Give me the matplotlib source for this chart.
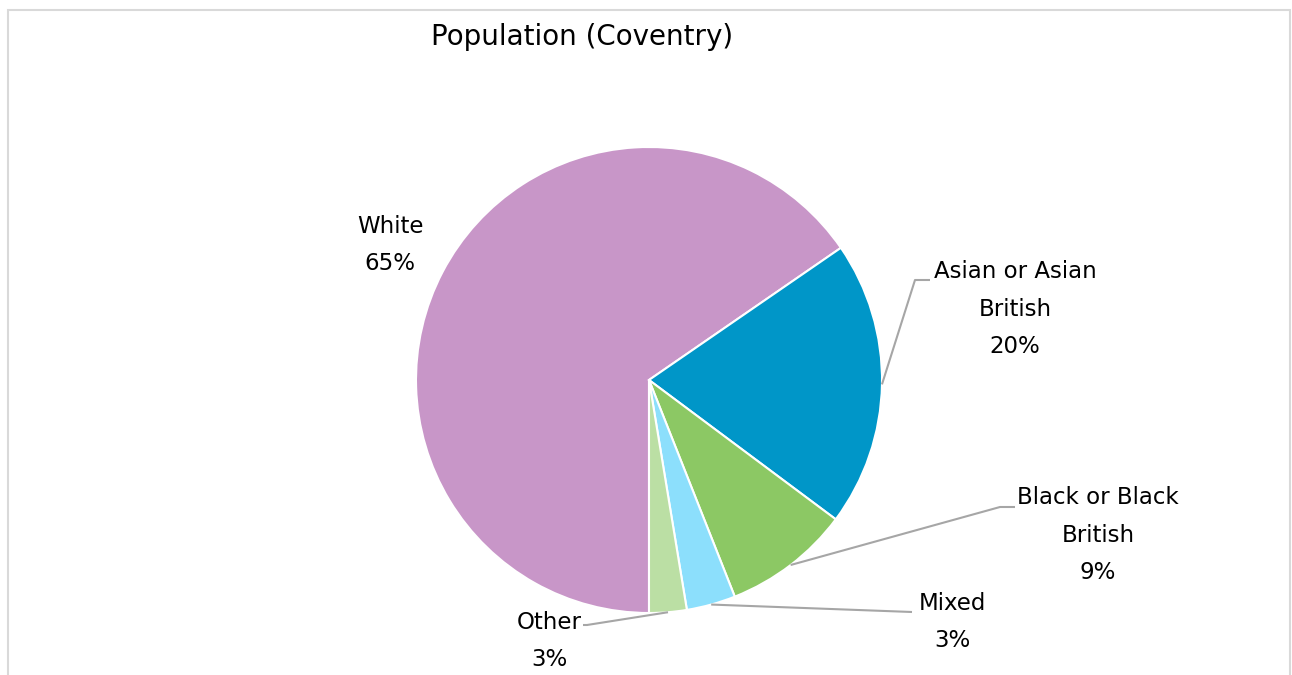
import matplotlib.pyplot as plt
from matplotlib.patches import Rectangle
import numpy as np

# Données
groupes = ["White", "Asian or Asian\nBritish", "Black or Black\nBritish", "Mixed", "Other"]
parts = [65.4, 19.8, 8.8, 3.4, 2.6]
couleurs = ["#C896C8", "#0096C8", "#8CC864", "#8CDFFC", "#BBDFA4"]

# Position des étiquettes (pixels) et coudes des lignes de rappel
pos_texte = [(390, 245), (1015, 309), (1098, 535), (952, 622), (549, 641)]
coudes = [None, [(915, 280), (930, 280)], [(1000, 507), (1015, 507)],
          [(912, 612)], [(587, 625), (583, 625)]]

W, H = 1292, 675
fig = plt.figure(figsize=(W / 100, H / 100), dpi=100)
ax = fig.add_axes([0, 0, 1, 1])

# Cadre gris autour du graphique
ax.add_patch(Rectangle((7.5, -20), 1282, H - 9.5 + 20, fill=False,
                       edgecolor='#D9D9D9', linewidth=1.5))

centre = (649, H - 380)
rayon = 233
wedges, _ = ax.pie(parts, colors=couleurs, startangle=-90, counterclock=False,
                   center=centre, radius=rayon, frame=True,
                   wedgeprops=dict(edgecolor='white', linewidth=1.5))
ax.set_xlim(0, W)
ax.set_ylim(0, H)
ax.set_aspect('equal')
ax.axis('off')

for i, w in enumerate(wedges):
    texte = f"{groupes[i]}\n{parts[i]:.0f}%"
    x, y = pos_texte[i]
    ax.text(x, H - y, texte, ha='center', va='center', fontsize=16.5,
            linespacing=1.8, color='black', family='DejaVu Sans')
    if coudes[i] is None:
        continue
    ang = np.deg2rad((w.theta1 + w.theta2) / 2)
    pts = [(centre[0] + rayon * np.cos(ang), centre[1] + rayon * np.sin(ang))]
    pts += [(px, H - py) for px, py in coudes[i]]
    xs, ys = zip(*pts)
    ax.plot(xs, ys, color='#A6A6A6', linewidth=1.5, solid_capstyle='butt')

ax.text(582, H - 37, "Population (Coventry)", ha='center', va='center',
        fontsize=20, color='black', family='DejaVu Sans')

fig.savefig("out.png", dpi=100, facecolor='white')
